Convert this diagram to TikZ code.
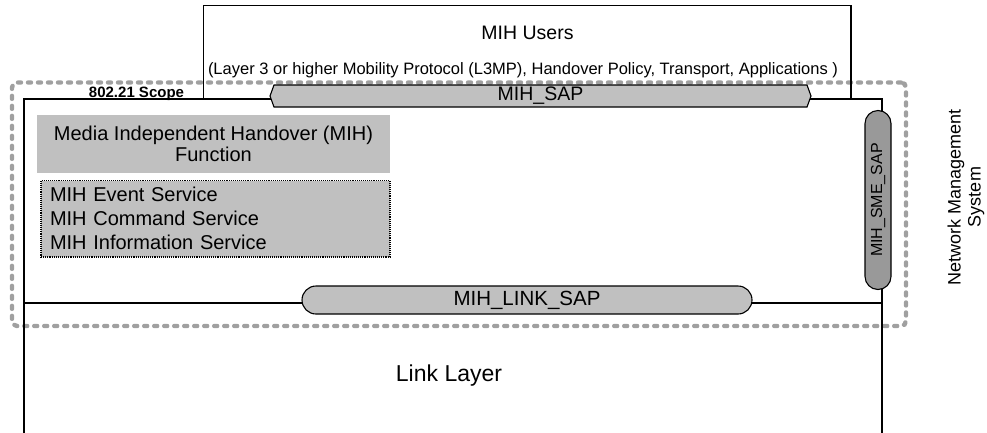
\documentclass[tikz,border=0pt]{standalone}
\usepackage{fontspec}
\setmainfont{Liberation Sans}
\usetikzlibrary{shapes.symbols,shapes.misc}
\definecolor{sapgray}{HTML}{C0C0C0}
\definecolor{smegray}{HTML}{999999}
\definecolor{scopegray}{HTML}{A0A0A0}
\newcommand{\fsz}[1]{\fontsize{#1}{#1}\selectfont}

\begin{document}
\begin{tikzpicture}[x=1pt,y=-1pt,line width=1.1pt,inner sep=0pt,
  frame node/.style={draw,rectangle},
  fill node/.style={rectangle,fill=sapgray,font=\fsz{20}},
  pill node/.style={draw,rounded rectangle,font=\fsz{20.5}},
  scope node/.style={draw=scopegray,rectangle,rounded corners=5pt,line width=4.4pt,
    dash pattern=on 3pt off 7pt,line cap=round}]

  \useasboundingbox (0,0) rectangle (987,432);
  \clip (0,0) rectangle (987,432);

  \node[scope node,minimum width=894pt,minimum height=243.5pt] (scope) at (459,204.25) {};

  \node[frame node,minimum width=647.5pt,minimum height=93.5pt] (users) at (527.25,52.25) {};
  \node[frame node,minimum width=858pt,minimum height=204pt] (mihf) at (453,201) {};
  \node[frame node,minimum width=858pt,minimum height=147pt] (link) at (453,376.5) {};

  \node[anchor=base,font=\fsz{19.5}] (userstitle) at (527.5,39) {MIH Users};
  \node[anchor=base,font=\fsz{16.5}] (userstext) at (523,74)
    {(Layer 3 or higher Mobility Protocol (L3MP), Handover Policy, Transport, Applications )};
  \node[anchor=base,font=\bfseries\fsz{15}] (scopetext) at (136.5,97) {802.21 Scope};
  \node[anchor=base,font=\fsz{23}] (linktext) at (449,381) {Link Layer};

  \node[fill node,minimum width=353pt,minimum height=58pt,align=center,
    font=\fontsize{20}{21.5}\selectfont] (func) at (213.5,144)
    {Media Independent Handover (MIH)\\Function};
  \node[fill node,draw,densely dotted,minimum width=349pt,minimum height=76.5pt,
    text width=331pt,align=left,font=\fontsize{20}{24}\selectfont] (services) at (215.5,218.75)
    {MIH Event Service\\MIH Command Service\\MIH Information Service};

  \node[draw,fill=sapgray,signal,signal to=east and west,signal pointer angle=140,
    minimum width=541pt,minimum height=22pt,font=\fsz{19.5}] (sap) at (540.5,96) {MIH\_SAP};
  \node[pill node,fill=sapgray,minimum width=450pt,minimum height=28pt] (linksap) at (527,300) {MIH\_LINK\_SAP};
  \node[pill node,fill=smegray,rotate=90,minimum width=179pt,minimum height=26pt,
    font=\fsz{16}] (smesap) at (878,200) {MIH\_SME\_SAP};

  \node[rotate=90,align=center,font=\fontsize{18}{20}\selectfont] (nms) at (966,197)
    {Network Management\\System};

\end{tikzpicture}
\end{document}
